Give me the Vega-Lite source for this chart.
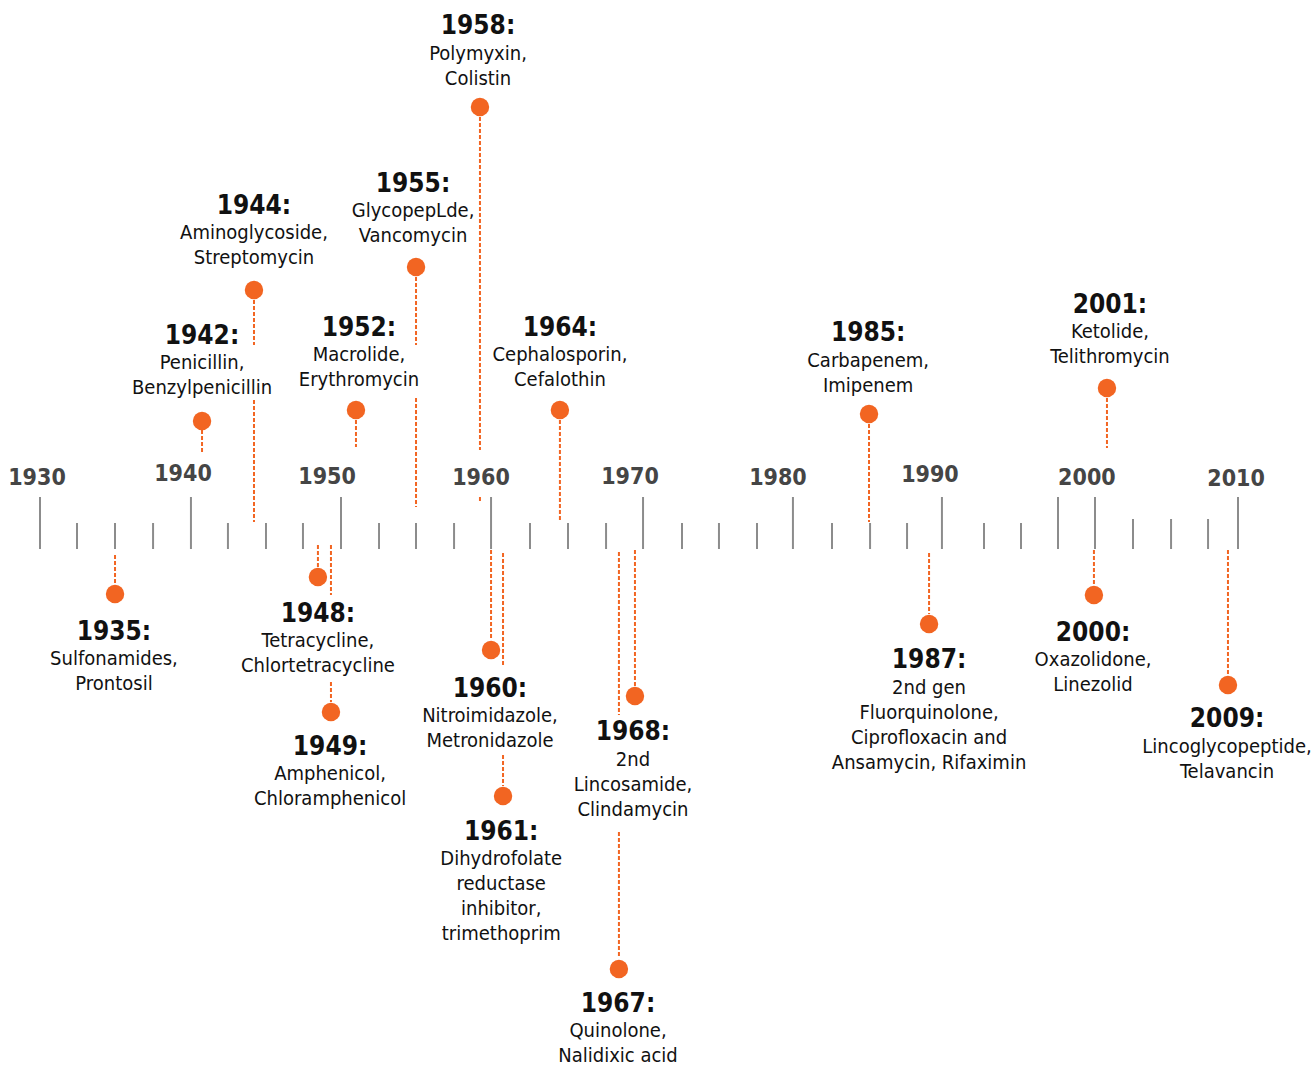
{
  "$schema": "https://vega.github.io/schema/vega-lite/v6.json",
  "width": 1316,
  "height": 1068,
  "autosize": "none",
  "padding": 0,
  "background": "#ffffff",
  "config": {"view": {"stroke": null}},
  "datasets": {
    "ticks": [
      {"x": 1930.0, "y": 0, "y2": 52},
      {"x": 1932.47, "y": 0, "y2": 26},
      {"x": 1935.01, "y": 0, "y2": 26},
      {"x": 1937.55, "y": 0, "y2": 26},
      {"x": 1940.08, "y": 0, "y2": 52},
      {"x": 1942.55, "y": 0, "y2": 26},
      {"x": 1945.09, "y": 0, "y2": 26},
      {"x": 1947.56, "y": 0, "y2": 26},
      {"x": 1950.10, "y": 0, "y2": 52},
      {"x": 1952.64, "y": 0, "y2": 26},
      {"x": 1955.11, "y": 0, "y2": 26},
      {"x": 1957.65, "y": 0, "y2": 26},
      {"x": 1960.12, "y": 0, "y2": 52},
      {"x": 1962.72, "y": 0, "y2": 26},
      {"x": 1965.26, "y": 0, "y2": 26},
      {"x": 1967.80, "y": 0, "y2": 26},
      {"x": 1970.27, "y": 0, "y2": 52},
      {"x": 1972.87, "y": 0, "y2": 26},
      {"x": 1975.34, "y": 0, "y2": 26},
      {"x": 1977.88, "y": 0, "y2": 26},
      {"x": 1980.28, "y": 0, "y2": 52},
      {"x": 1982.89, "y": 0, "y2": 26},
      {"x": 1985.43, "y": 0, "y2": 26},
      {"x": 1987.90, "y": 0, "y2": 26},
      {"x": 1990.23, "y": 0, "y2": 52},
      {"x": 1993.04, "y": 0, "y2": 26},
      {"x": 1995.51, "y": 0, "y2": 26},
      {"x": 1997.98, "y": 0, "y2": 52},
      {"x": 2000.45, "y": 0, "y2": 52},
      {"x": 2002.99, "y": 0, "y2": 30},
      {"x": 2005.53, "y": 0, "y2": 30},
      {"x": 2008.00, "y": 0, "y2": 30},
      {"x": 2010.0, "y": 0, "y2": 52}
    ],
    "axislabels": [
      {"label": "1930", "x": 1929.8, "y": 71},
      {"label": "1940", "x": 1939.55, "y": 75},
      {"label": "1950", "x": 1949.17, "y": 72},
      {"label": "1960", "x": 1959.45, "y": 71},
      {"label": "1970", "x": 1969.4, "y": 72},
      {"label": "1980", "x": 1979.28, "y": 71},
      {"label": "1990", "x": 1989.43, "y": 74},
      {"label": "2000", "x": 1999.91, "y": 71},
      {"label": "2010", "x": 2009.87, "y": 70}
    ],
    "segments": [
      {"x": 1935.01, "y": -6, "y2": -36},
      {"x": 1940.82, "y": 119, "y2": 97},
      {"x": 1944.29, "y": 249, "y2": 204},
      {"x": 1944.29, "y": 149, "y2": 27},
      {"x": 1948.56, "y": 4, "y2": -18},
      {"x": 1949.43, "y": 4, "y2": -46},
      {"x": 1949.43, "y": -133, "y2": -153},
      {"x": 1951.10, "y": 129, "y2": 102},
      {"x": 1955.11, "y": 272, "y2": 204},
      {"x": 1955.11, "y": 151, "y2": 42},
      {"x": 1959.38, "y": 432, "y2": 99},
      {"x": 1959.38, "y": 52, "y2": 48},
      {"x": 1960.12, "y": -1, "y2": -91},
      {"x": 1960.92, "y": -4, "y2": -116},
      {"x": 1960.92, "y": -206, "y2": -237},
      {"x": 1964.72, "y": 129, "y2": 27},
      {"x": 1968.66, "y": -3, "y2": -166},
      {"x": 1968.66, "y": -283, "y2": -409},
      {"x": 1969.73, "y": -1, "y2": -137},
      {"x": 1985.36, "y": 125, "y2": 27},
      {"x": 1989.37, "y": -4, "y2": -65},
      {"x": 2000.38, "y": -1, "y2": -36},
      {"x": 2001.25, "y": 151, "y2": 101},
      {"x": 2009.33, "y": -1, "y2": -126}
    ],
    "events": [
      {"year": "1935:", "x": 1935.01, "dot": -45, "lx": 1934.94, "ylab": -91, "ydesc": -116, "desc": "Sulfonamides,\nProntosil"},
      {"year": "1942:", "x": 1940.82, "dot": 128, "lx": 1940.82, "ylab": 205, "ydesc": 180, "desc": "Penicillin,\nBenzylpenicillin"},
      {"year": "1944:", "x": 1944.29, "dot": 259, "lx": 1944.29, "ylab": 335, "ydesc": 310, "desc": "Aminoglycoside,\nStreptomycin"},
      {"year": "1948:", "x": 1948.56, "dot": -28, "lx": 1948.56, "ylab": -73, "ydesc": -98, "desc": "Tetracycline,\nChlortetracycline"},
      {"year": "1949:", "x": 1949.43, "dot": -163, "lx": 1949.37, "ylab": -206, "ydesc": -231, "desc": "Amphenicol,\nChloramphenicol"},
      {"year": "1952:", "x": 1951.10, "dot": 139, "lx": 1951.30, "ylab": 213, "ydesc": 188, "desc": "Macrolide,\nErythromycin"},
      {"year": "1955:", "x": 1955.11, "dot": 282, "lx": 1954.91, "ylab": 357, "ydesc": 332, "desc": "GlycopepLde,\nVancomycin"},
      {"year": "1958:", "x": 1959.38, "dot": 442, "lx": 1959.25, "ylab": 515, "ydesc": 489, "desc": "Polymyxin,\nColistin"},
      {"year": "1960:", "x": 1960.12, "dot": -101, "lx": 1960.05, "ylab": -148, "ydesc": -173, "desc": "Nitroimidazole,\nMetronidazole"},
      {"year": "1961:", "x": 1960.92, "dot": -247, "lx": 1960.80, "ylab": -291, "ydesc": -316, "desc": "Dihydrofolate\nreductase\ninhibitor,\ntrimethoprim"},
      {"year": "1964:", "x": 1964.72, "dot": 139, "lx": 1964.72, "ylab": 213, "ydesc": 188, "desc": "Cephalosporin,\nCefalothin"},
      {"year": "1967:", "x": 1968.66, "dot": -420, "lx": 1968.60, "ylab": -463, "ydesc": -488, "desc": "Quinolone,\nNalidixic acid"},
      {"year": "1968:", "x": 1969.73, "dot": -147, "lx": 1969.60, "ylab": -191, "ydesc": -217, "desc": "2nd\nLincosamide,\nClindamycin"},
      {"year": "1985:", "x": 1985.36, "dot": 135, "lx": 1985.30, "ylab": 208, "ydesc": 182, "desc": "Carbapenem,\nImipenem"},
      {"year": "1987:", "x": 1989.37, "dot": -75, "lx": 1989.37, "ylab": -119, "ydesc": -145, "desc": "2nd gen\nFluorquinolone,\nCiprofloxacin and\nAnsamycin, Rifaximin"},
      {"year": "2000:", "x": 2000.38, "dot": -46, "lx": 2000.32, "ylab": -92, "ydesc": -117, "desc": "Oxazolidone,\nLinezolid"},
      {"year": "2001:", "x": 2001.25, "dot": 161, "lx": 2001.45, "ylab": 236, "ydesc": 211, "desc": "Ketolide,\nTelithromycin"},
      {"year": "2009:", "x": 2009.33, "dot": -136, "lx": 2009.27, "ylab": -178, "ydesc": -204, "desc": "Lincoglycopeptide,\nTelavancin"}
    ]
  },
  "layer": [
    {
      "data": {"name": "ticks"},
      "mark": {"type": "rule", "color": "#8c8c8c", "strokeWidth": 2},
      "encoding": {
        "x": {"field": "x", "type": "quantitative", "scale": {"domain": [1927.329, 2015.209], "nice": false, "zero": false}, "axis": null},
        "y": {"field": "y", "type": "quantitative", "scale": {"domain": [-519, 549], "nice": false, "zero": false}, "axis": null},
        "y2": {"field": "y2"}
      }
    },
    {
      "data": {"name": "axislabels"},
      "mark": {"type": "text", "font": "DejaVu Sans Condensed, sans-serif", "fontSize": 23, "fontWeight": "bold", "color": "#454545", "align": "center", "baseline": "middle"},
      "encoding": {
        "x": {"field": "x", "type": "quantitative", "scale": {"domain": [1927.329, 2015.209], "nice": false, "zero": false}, "axis": null},
        "y": {"field": "y", "type": "quantitative", "scale": {"domain": [-519, 549], "nice": false, "zero": false}, "axis": null},
        "text": {"field": "label"}
      }
    },
    {
      "data": {"name": "segments"},
      "mark": {"type": "rule", "color": "#f26522", "strokeWidth": 2, "strokeDash": [4, 2]},
      "encoding": {
        "x": {"field": "x", "type": "quantitative", "scale": {"domain": [1927.329, 2015.209], "nice": false, "zero": false}, "axis": null},
        "y": {"field": "y", "type": "quantitative", "scale": {"domain": [-519, 549], "nice": false, "zero": false}, "axis": null},
        "y2": {"field": "y2"}
      }
    },
    {
      "data": {"name": "events"},
      "mark": {"type": "point", "shape": "circle", "filled": true, "opacity": 1, "color": "#f26522", "size": 340},
      "encoding": {
        "x": {"field": "x", "type": "quantitative", "scale": {"domain": [1927.329, 2015.209], "nice": false, "zero": false}, "axis": null},
        "y": {"field": "dot", "type": "quantitative", "scale": {"domain": [-519, 549], "nice": false, "zero": false}, "axis": null}
      }
    },
    {
      "data": {"name": "events"},
      "mark": {"type": "text", "font": "DejaVu Sans Condensed, sans-serif", "fontSize": 26, "fontWeight": "bold", "color": "#111111", "align": "center", "baseline": "alphabetic"},
      "encoding": {
        "x": {"field": "lx", "type": "quantitative", "scale": {"domain": [1927.329, 2015.209], "nice": false, "zero": false}, "axis": null},
        "y": {"field": "ylab", "type": "quantitative", "scale": {"domain": [-519, 549], "nice": false, "zero": false}, "axis": null},
        "text": {"field": "year"}
      }
    },
    {
      "data": {"name": "events"},
      "mark": {"type": "text", "font": "DejaVu Sans Condensed, sans-serif", "fontSize": 20, "color": "#111111", "align": "center", "baseline": "alphabetic", "lineBreak": "\n", "lineHeight": 25},
      "encoding": {
        "x": {"field": "lx", "type": "quantitative", "scale": {"domain": [1927.329, 2015.209], "nice": false, "zero": false}, "axis": null},
        "y": {"field": "ydesc", "type": "quantitative", "scale": {"domain": [-519, 549], "nice": false, "zero": false}, "axis": null},
        "text": {"field": "desc"}
      }
    }
  ]
}
